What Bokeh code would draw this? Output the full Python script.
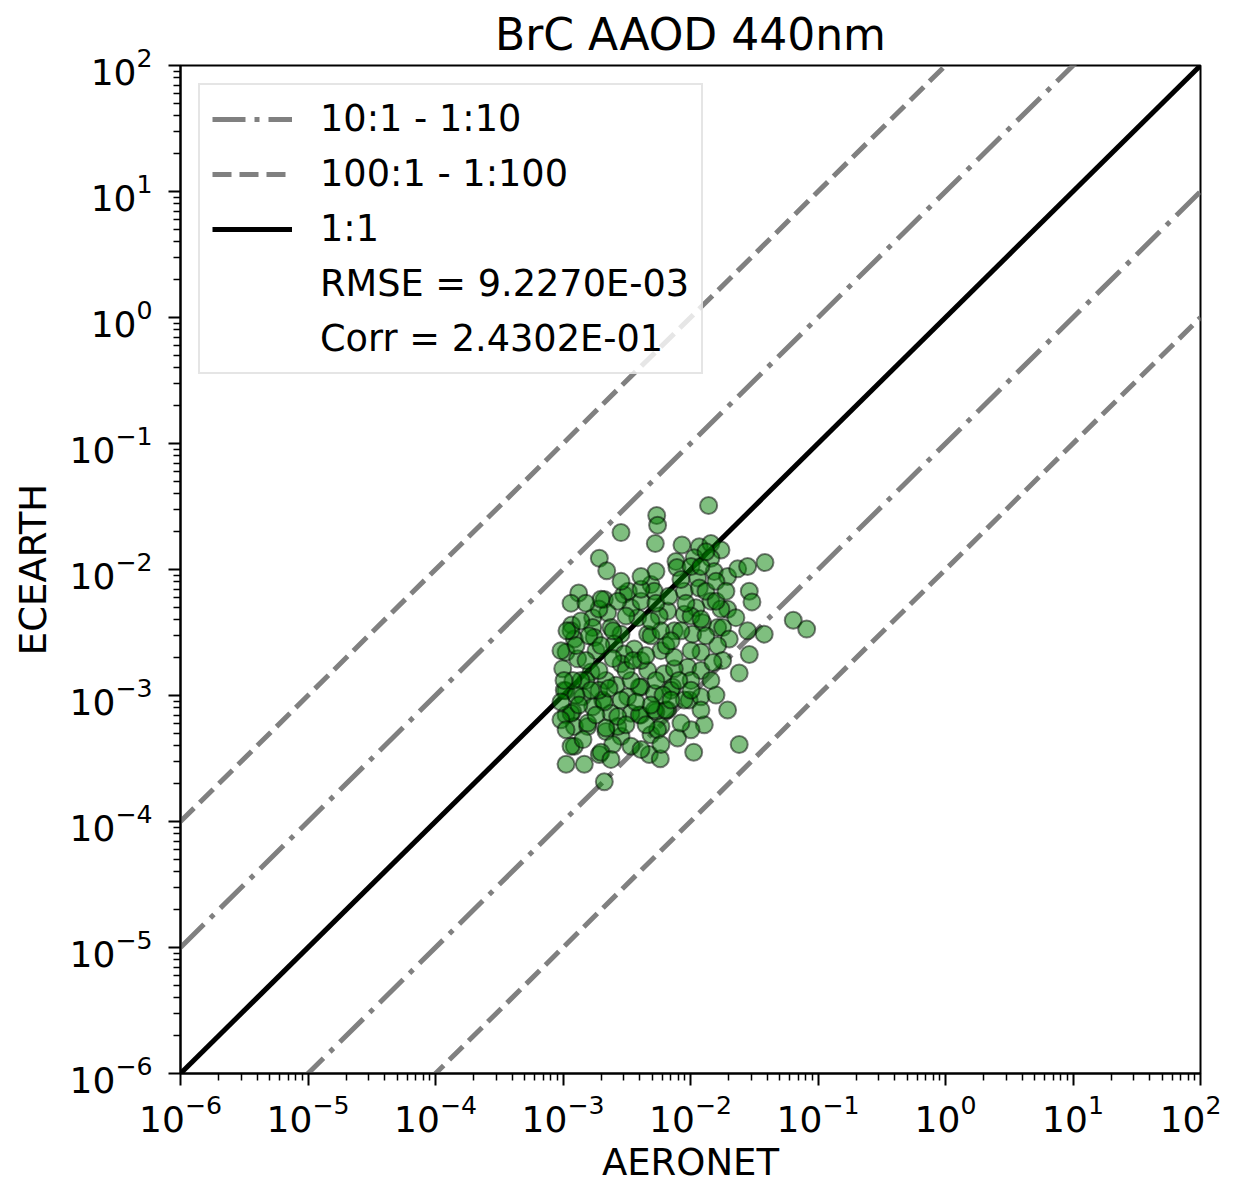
import numpy as np
from bokeh.plotting import figure
from bokeh.models import Range1d, FixedTicker, Legend, LegendItem, ColumnDataSource
from bokeh.embed import file_html
from bokeh.resources import INLINE

# ---- data (log10 exponents) ----
aeronet_log10 = [
    -1.858, -2.265, -2.258, -2.545, -2.276, -2.067, -1.931, -1.840, -1.761, -2.715,
    -2.657, -2.114, -2.106, -1.971, -1.840, -1.814, -1.709, -1.630, -1.552, -1.416,
    -2.877, -2.676, -2.524, -2.488, -2.310, -2.284, -2.049, -1.944, -1.931, -1.539,
    -1.518, -1.840, -1.709, -1.644, -1.552, -1.422, -1.194, -1.089, -1.957, -1.905,
    -2.049, -2.179, -2.245, -2.336, -2.414, -2.467, -2.571, -2.650, -2.767, -2.767,
    -2.932, -2.911, -2.755, -2.624, -2.545, -2.598, -2.441, -2.519, -2.232, -2.310,
    -2.127, -1.983, -1.787, -1.748, -1.696, -1.787, -1.918, -2.022, -1.918, -1.748,
    -1.618, -1.539, -2.976, -2.885, -3.002, -2.780, -2.545, -2.336, -2.206, -2.127,
    -2.140, -2.976, -2.846, -2.689, -2.493, -2.584, -2.388, -2.284, -2.010, -1.918,
    -1.800, -1.709, -1.892, -1.996, -2.101, -2.179, -2.271, -2.388, -2.467, -2.624,
    -2.767, -2.924, -2.976, -2.911, -2.806, -2.663, -2.545, -2.571, -2.310, -2.232,
    -2.911, -2.467, -2.323, -2.237, -1.975, -1.618, -2.976, -2.833, -2.676, -2.715,
    -2.610, -2.937, -2.127, -2.153, -2.990, -2.676, -2.402, -2.284, -2.194, -2.049,
    -2.937, -2.806, -2.663, -2.937, -2.702, -2.571, -2.402, -2.258, -2.075, -3.016,
    -2.976, -2.741, -2.663, -2.718, -2.467, -2.820, -2.388, -2.075, -1.996, -1.879,
    -2.232, -2.192, -2.859, -2.718, -2.937, -2.859, -2.545, -1.996, -1.840, -2.388,
    -2.271, -1.879, -1.800, -1.996,
    -2.969, -2.898, -2.796, -2.702, -2.820, -2.718, -2.608, -2.506, -2.451, -2.349,
    -2.271, -2.216, -2.091, -1.996, -2.310, -2.428, -2.639, -2.780, -2.898, -2.922,
    -3.016, -2.875, -2.741, -2.506, -2.349, -2.153, -1.918, -1.824, -1.996, -2.153,
    -2.310, -2.506, -2.608, -2.702, -2.820, -2.388, -2.169, -2.036, -1.918, -1.761,
    -1.800, -1.722, -2.271, -2.388, -2.545, -2.075, -1.918, -1.879, -3.016, -2.992,
    -2.843, -2.388, -2.232, -2.624,
]
ecearth_log10 = [
    -1.492, -1.571, -1.649, -1.707, -1.794, -1.806, -1.819, -1.794, -1.845, -1.911,
    -2.010, -1.937, -1.984, -1.906, -1.911, -2.016, -2.055, -1.995, -1.976, -1.945,
    -2.186, -2.238, -2.199, -2.173, -2.120, -2.173, -2.173, -2.068, -2.147, -2.173,
    -2.257, -2.251, -2.316, -2.382, -2.487, -2.513, -2.403, -2.473, -2.304, -2.422,
    -2.356, -2.330, -2.369, -2.513, -2.382, -2.304, -2.251, -2.343, -2.382, -2.461,
    -2.440, -2.552, -2.539, -2.461, -2.513, -2.591, -2.630, -2.670, -2.644, -2.526,
    -2.487, -2.513, -2.461, -2.461, -2.552, -2.604, -2.657, -2.775, -2.801, -2.722,
    -2.822, -2.675, -2.657, -2.709, -2.787, -2.814, -2.748, -2.801, -2.827, -2.787,
    -2.932, -2.963, -3.010, -3.036, -3.010, -2.918, -2.932, -2.984, -3.036, -3.010,
    -2.997, -3.115, -3.232, -3.272, -3.337, -3.115, -3.128, -3.154, -3.141, -3.141,
    -3.089, -3.128, -3.154, -3.246, -3.246, -3.285, -3.324, -3.246, -3.311, -3.246,
    -3.403, -3.403, -3.468, -3.502, -3.450, -3.389, -3.546, -3.546, -3.685, -3.468,
    -3.389, -2.487, -2.696, -2.958, -2.958, -3.052, -2.932, -3.115, -3.115, -3.036,
    -3.141, -3.219, -3.258, -3.403, -3.450, -3.167, -3.154, -3.272, -3.219, -3.193,
    -3.272, -2.644, -2.880, -2.958, -2.880, -2.880, -2.722, -2.487, -2.369, -2.526,
    -2.487, -2.604, -2.408, -2.314, -2.267, -2.880, -3.036, -2.880, -2.880, -2.251,
    -2.267, -2.173, -2.094, -1.976,
    -2.487, -2.604, -2.526, -2.604, -2.722, -2.801, -2.707, -2.801, -2.722, -2.683,
    -2.880, -2.997, -2.880, -2.958, -3.075, -3.052, -2.942, -2.958, -2.997, -2.880,
    -3.052, -3.075, -3.154, -3.232, -3.232, -3.036, -3.115, -2.738, -2.644, -2.565,
    -2.408, -2.369, -2.487, -2.236, -2.267, -2.157, -2.212, -2.267, -2.393, -2.314,
    -2.251, -2.173, -2.016, -2.055, -2.094, -2.079, -1.976, -1.859, -2.644, -2.880,
    -3.350, -3.429, -3.389, -3.507,
]
aeronet = [10.0 ** v for v in aeronet_log10]
ecearth = [10.0 ** v for v in ecearth_log10]

line_x = [1e-6, 1e2]
ratios_10 = [10.0, 0.1]
ratios_100 = [100.0, 0.01]
legend_labels = ["10:1 - 1:10", "100:1 - 1:100", "1:1", "RMSE = 9.2270E-03", "Corr = 2.4302E-01"]
title_text = "BrC AAOD 440nm"
x_label = "AERONET"
y_label = "ECEARTH"
decades = list(range(-6, 3))

FONT = "DejaVu Sans"

p = figure(width=1221, height=1186, x_axis_type="log", y_axis_type="log",
           x_range=Range1d(1e-6, 1e2), y_range=Range1d(1e-6, 1e2),
           output_backend="svg", toolbar_location=None,
           min_border_left=180, min_border_right=21, min_border_top=64, min_border_bottom=100)

p.title.text = title_text
p.title.align = "center"
p.title.text_font = FONT
p.title.text_font_size = "44px"
p.title.text_font_style = "normal"
p.title.text_color = "black"
p.title.standoff = 12

p.xgrid.visible = False
p.ygrid.visible = False
p.outline_line_color = "black"
p.outline_line_width = 2
p.outline_line_alpha = 1.0

major = [10.0 ** k for k in decades]
minor = [m * 10.0 ** k for k in decades[:-1] for m in range(2, 10)]
for ax in (p.xaxis[0], p.yaxis[0]):
    ax.ticker = FixedTicker(ticks=major, minor_ticks=minor)
    ax.axis_line_width = 2
    ax.major_tick_line_width = 2
    ax.minor_tick_line_width = 1.5
    ax.major_tick_in = 0
    ax.major_tick_out = 12
    ax.minor_tick_in = 0
    ax.minor_tick_out = 7
    ax.major_label_text_font = FONT
    ax.major_label_text_font_size = "36px"
    ax.major_label_text_color = "black"
    ax.axis_label_text_font = FONT
    ax.axis_label_text_font_size = "37px"
    ax.axis_label_text_font_style = "normal"
    ax.axis_label_text_color = "black"
p.xaxis.axis_label = x_label
p.yaxis.axis_label = y_label
p.xaxis.major_label_standoff = 8
p.yaxis.major_label_standoff = 16
p.xaxis.axis_label_standoff = 6
p.yaxis.axis_label_standoff = 12

# reference lines
grey = "#808080"
r_dd = None
for r in ratios_10:
    r_dd = p.line(line_x, [v * r for v in line_x], line_color=grey, line_width=5,
                  line_dash="33 9 5 9")
r_da = None
for r in ratios_100:
    r_da = p.line(line_x, [v * r for v in line_x], line_color=grey, line_width=5,
                  line_dash="19 8")
r_11 = p.line(line_x, line_x, line_color="black", line_width=5)

# scatter
src = ColumnDataSource(dict(x=aeronet, y=ecearth))
p.scatter("x", "y", source=src, size=17, fill_color="green", fill_alpha=0.5,
          line_color="black", line_alpha=0.5, line_width=2)

# invisible renderers for text-only legend rows
r_blank1 = p.line([1e-6], [1e-6], line_alpha=0)
r_blank2 = p.line([1e-6], [1e-6], line_alpha=0)

legend = Legend(items=[
    LegendItem(label=legend_labels[0], renderers=[r_dd]),
    LegendItem(label=legend_labels[1], renderers=[r_da]),
    LegendItem(label=legend_labels[2], renderers=[r_11]),
    LegendItem(label=legend_labels[3], renderers=[r_blank1]),
    LegendItem(label=legend_labels[4], renderers=[r_blank2]),
], location="top_left")
legend.margin = 18
legend.padding = 12
legend.spacing = 12
legend.glyph_width = 80
legend.glyph_height = 40
legend.label_height = 40
legend.label_standoff = 28
legend.label_text_font = FONT
legend.label_text_font_size = "36.7px"
legend.label_text_color = "black"
legend.label_text_baseline = "middle"
legend.border_line_color = "#cccccc"
legend.border_line_width = 2
legend.background_fill_alpha = 0.8
p.add_layout(legend)

open("out.html", "w").write(file_html(p, INLINE))
